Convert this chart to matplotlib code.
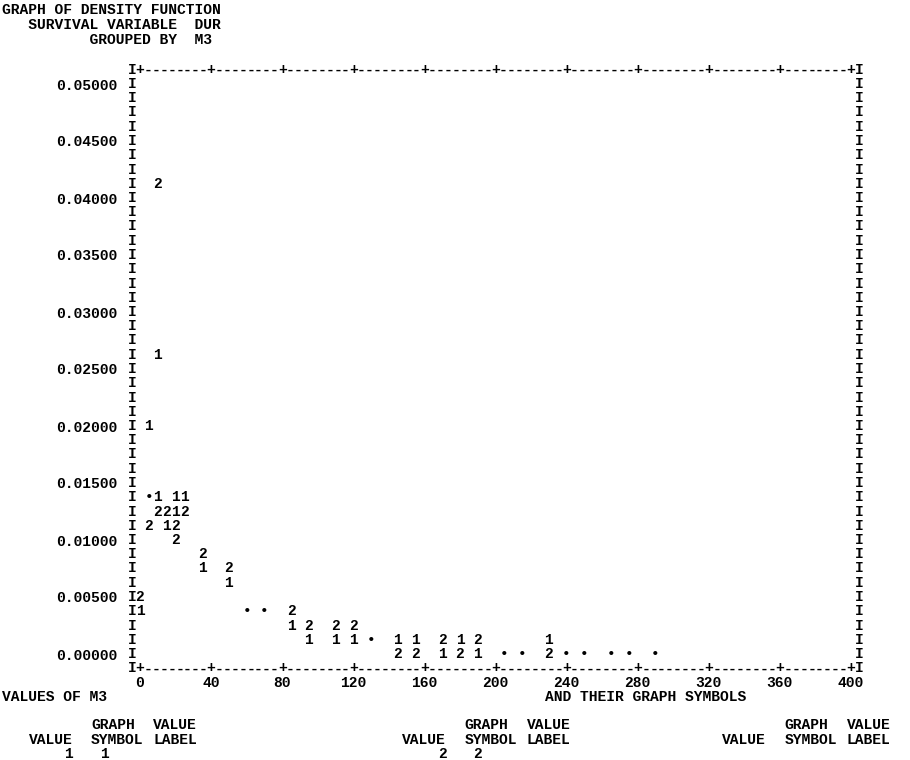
import matplotlib
matplotlib.use('Agg')
import matplotlib.pyplot as plt
import numpy as np

# life table interval starts (months) and density per group of M3
dur = [0, 3, 6, 9, 12, 15, 18, 21, 24, 36, 48, 60, 72, 84, 96, 108, 120, 132,
       144, 156, 168, 180, 192, 204, 216, 228, 240, 252, 264, 276, 288]
dens1 = [0.00375, 0.02, 0.01375, 0.02625, 0.01375, 0.01125, 0.01375, 0.0125,
         0.01375, 0.0075, 0.00625, 0.00375, 0.00375, 0.0025, 0.00125, 0.00125,
         0.00125, 0.00125, 0.00125, 0.00125, 0, 0.00125, 0, 0, 0, 0.00125,
         0, 0, 0, 0, 0]
dens2 = [0.005, 0.01125, 0.01375, 0.04125, 0.0125, 0.0125, 0.01125, 0.01,
         0.0125, 0.00875, 0.0075, 0.00375, 0.00375, 0.00375, 0.0025, 0.0025,
         0.0025, 0.00125, 0, 0, 0.00125, 0, 0.00125, 0, 0, 0, 0, 0, 0, 0, 0]
groups = ['1', '2']
yticks = np.arange(0, 0.05001, 0.005)
xticks = np.arange(0, 401, 40)

W, H = 910, 760
cw = 8.89          # print column width in px
col0 = 2.3         # left edge of print column 0
step_x = 5.0       # 80 print positions over 0..400
step_y = 0.00125   # one print line

mono = ['Liberation Mono', 'DejaVu Sans Mono']
fs = 10.5
fw = 'bold'

fig = plt.figure(figsize=(W / 100, H / 100), dpi=100)
ax = fig.add_axes([140 / W, 106 / H, 711 / W, 570 / H])
ax.set_xlim(0, 400)
ax.set_ylim(0, 0.05)
for s in ax.spines.values():
    s.set_visible(False)
ax.set_xticks(xticks)
ax.set_xticklabels([str(int(v)) for v in xticks], family=mono, fontsize=fs,
                   weight=fw)
ax.set_yticks(yticks)
ax.set_yticklabels(['%.5f' % v for v in yticks], family=mono, fontsize=fs,
                   weight=fw)
ax.tick_params(axis='y', length=0, pad=16)
ax.tick_params(axis='x', length=0, pad=16)

# frame drawn like the printer does: I's on the sides, +---- on top and bottom
for ln in range(-1, 42):
    for xx in (-4.5, 404.5):
        ax.text(xx, ln * step_y, 'I', family=mono, fontsize=fs, weight=fw,
                ha='center', va='center')
for ln in (-1, 41):
    for j in range(10):
        ax.text(40 * j, ln * step_y, '+', family=mono, fontsize=fs,
                weight=fw, ha='center', va='center')
        for m in range(1, 9):
            ax.text(40 * j + 40 * m / 9, ln * step_y, '-', family=mono,
                    fontsize=fs, weight=fw, ha='center', va='center')
    ax.text(400, ln * step_y, '+', family=mono, fontsize=fs, weight=fw,
            ha='center', va='center')

# symbols snapped to print positions, '•' where both groups fall together
cells = {}
for g, dens in zip(groups, [dens1, dens2]):
    cols = np.round(np.asarray(dur) / step_x).astype(int)
    lines = np.round(np.asarray(dens) / step_y).astype(int)
    for c, l in zip(cols, lines):
        cells.setdefault((c, l), set()).add(g)
for (c, l), gs in cells.items():
    sym = '•' if len(gs) > 1 else gs.pop()
    ax.text(c * step_x, l * step_y, sym, family=mono, fontsize=fs,
            weight=fw, ha='center', va='center')


def put(col, ytop, s, **kw):
    fig.text((col0 + col * cw) / W, 1 - ytop / H, s, family=mono,
             fontsize=fs, weight=fw, ha='left', va='center', **kw)


put(0, 25, 'GRAPH OF DENSITY FUNCTION\n'
           '   SURVIVAL VARIABLE  DUR\n'
           '          GROUPED BY  M3', linespacing=1.05)
put(0, 697, 'VALUES OF M3')
put(61, 697, 'AND THEIR GRAPH SYMBOLS')

for start, val in zip([3, 45, 81], ['1', '2', '']):
    put(start + 7, 725, 'GRAPH')
    put(start + 14, 725, 'VALUE')
    put(start, 740, 'VALUE')
    put(start + 7, 740, 'SYMBOL')
    put(start + 14, 740, 'LABEL')
    if val:
        put(start + 4, 754, val)
        put(start + 8, 754, val)

fig.savefig('out.png', dpi=100)
